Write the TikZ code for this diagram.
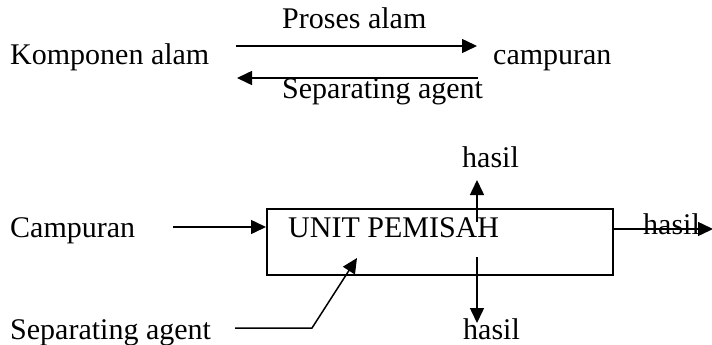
\documentclass[tikz,border=0pt]{standalone}
\usepackage{fontspec}
\setmainfont{Liberation Serif}
\usetikzlibrary{arrows.meta}
\begin{document}
\begin{tikzpicture}[x=1pt,y=-1pt,
  lbl/.style={anchor=base west,inner sep=0pt,font=\fontsize{30}{35}\selectfont},
  conn/.style={line width=1.5pt},
  arr/.style={conn,-{Triangle[length=15pt,width=14pt]}},
  boxst/.style={draw,line width=1.5pt,minimum width=346pt,minimum height=66pt,anchor=north west,inner sep=0pt}]
\useasboundingbox (0,0) rectangle (712,345);
% top part
\node[lbl] (komp) at (10,65) {Komponen alam};
\node[lbl] (camp1) at (493,65) {campuran};
\node[lbl] (proses) at (282,29) {Proses alam};
\node[lbl] (sep1) at (282,98) {Separating agent};
\coordinate (t1s) at (236,46);
\coordinate (t1e) at (477,46);
\coordinate (t2s) at (478,78);
\coordinate (t2e) at (237,78);
\draw[arr] (t1s) -- (t1e);
\draw[arr] (t2s) -- (t2e);
% bottom part
\node[boxst] (unit) at (266,208) {};
\node[lbl] (unitlbl) at (288,237) {UNIT PEMISAH};
\node[lbl] (camp2) at (10,237) {Campuran};
\node[lbl] (hup) at (462,167) {hasil};
\node[lbl] (hright) at (643,234) {hasil};
\node[lbl] (hdown) at (463,339) {hasil};
\node[lbl] (sep2) at (10,339) {Separating agent};
\coordinate (c2s) at (173,227);
\draw[arr] (c2s) -- (unit.west |- c2s);
\coordinate (ups) at (477,222);
\coordinate (upe) at (477,180);
\draw[arr] (ups) -- (upe);
\coordinate (dns) at (477,257);
\coordinate (dne) at (477,323);
\draw[arr] (dns) -- (dne);
\coordinate (rs) at (612,229);
\coordinate (re) at (713,229);
\draw[arr] (rs) -- (re);
\coordinate (ss) at (235,328);
\coordinate (sk) at (312,328);
\coordinate (se) at (357,258);
\draw[arr] (ss) -- (sk) -- (se);
\end{tikzpicture}
\end{document}
